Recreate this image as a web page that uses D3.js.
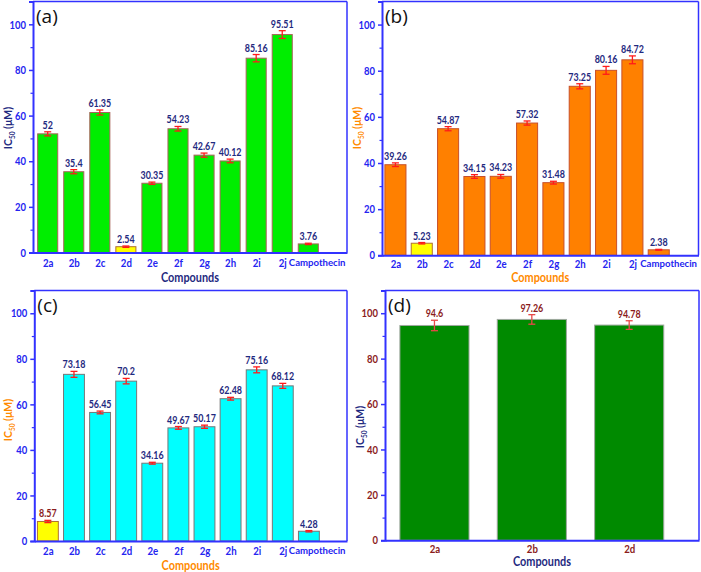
<!DOCTYPE html>
<html><head><meta charset="utf-8">
<script src="https://cdn.jsdelivr.net/npm/d3@7"></script>
<style>body{margin:0;background:#fff}svg{display:block}</style>
</head><body>
<svg id="chart" width="701" height="572"></svg>
<script>
// ---- data ----
const compounds = ["2a","2b","2c","2d","2e","2f","2g","2h","2i","2j","Campothecin"];
const valuesA = [52, 35.4, 61.35, 2.54, 30.35, 54.23, 42.67, 40.12, 85.16, 95.51, 3.76];
const errorsA = [0.9, 0.9, 1.1, 0.3, 0.5, 1.0, 0.9, 0.8, 1.6, 1.7, 0.3];
const valuesB = [39.26, 5.23, 54.87, 34.15, 34.23, 57.32, 31.48, 73.25, 80.16, 84.72, 2.38];
const errorsB = [0.8, 0.3, 0.9, 0.8, 0.8, 0.9, 0.6, 1.1, 1.7, 1.7, 0.2];
const valuesC = [8.57, 73.18, 56.45, 70.2, 34.16, 49.67, 50.17, 62.48, 75.16, 68.12, 4.28];
const errorsC = [0.5, 1.3, 0.6, 1.2, 0.4, 0.6, 0.7, 0.6, 1.3, 1.1, 0.3];
const compoundsD = ["2a","2b","2d"];
const valuesD = [94.6, 97.26, 94.78];
const errorsD = [2.3, 2.1, 1.9];
const yTicks = [0, 20, 40, 60, 80, 100];
const yMinorTicks = [10, 30, 50, 70, 90];
const panelLabels = ["(a)", "(b)", "(c)", "(d)"];

const svg = d3.select("#chart");
const FONT = "Lato, 'Open Sans', sans-serif";
const BLUE = "#3232ff", TICKBLUE = "#2424f0", NAVY = "#1f2a80", ORANGE = "#ff8a00", DARKRED = "#8b1c1c";

// condense text horizontally (emulating a narrow bold face)
function narrow(sel, f) {
  sel.each(function () {
    const w = this.getComputedTextLength();
    d3.select(this).attr("textLength", w * f).attr("lengthAdjust", "spacingAndGlyphs");
  });
}

function panel(o) {
  const g = svg.append("g");
  const x = d3.scaleLinear().domain(o.xDom).range([o.left, o.right]);
  const y = d3.scaleLinear().domain([0, 110]).range([o.bottom, o.top]);
  const step = x(1) - x(0);
  const bw = step * o.barFrac;

  g.selectAll("rect.bar").data(o.values).join("rect")
    .attr("x", (d, i) => x(i) - bw / 2)
    .attr("y", d => y(d))
    .attr("width", bw)
    .attr("height", d => y(0) - y(d))
    .attr("fill", (d, i) => i === o.highlight ? "#ffff00" : o.fill)
    .attr("stroke", (d, i) => i === o.highlight ? "#b07030" : o.stroke)
    .attr("stroke-width", 1);

  const cap = o.cap;
  o.values.forEach((v, i) => {
    const e = o.errors[i], cx = x(i);
    const eg = g.append("g").attr("stroke", o.errColor).attr("stroke-width", 1.3);
    eg.append("line").attr("x1", cx).attr("x2", cx).attr("y1", y(v - e)).attr("y2", y(v + e));
    eg.append("line").attr("x1", cx - cap).attr("x2", cx + cap).attr("y1", y(v - e)).attr("y2", y(v - e));
    eg.append("line").attr("x1", cx - cap).attr("x2", cx + cap).attr("y1", y(v + e)).attr("y2", y(v + e));
  });

  const vals = g.selectAll("text.val").data(o.values).join("text")
    .attr("x", (d, i) => x(i))
    .attr("y", (d, i) => y(d + o.errors[i]) - 3)
    .attr("text-anchor", "middle")
    .attr("font-family", FONT).attr("font-weight", "bold")
    .attr("font-size", o.valSize)
    .attr("fill", (d, i) => i === o.highlight && o.hlValColor ? o.hlValColor : o.valColor)
    .text(d => String(d));
  narrow(vals, 0.85);

  g.append("line").attr("x1", o.left).attr("x2", o.right).attr("y1", o.top).attr("y2", o.top)
    .attr("stroke", BLUE).attr("stroke-width", 1.5);
  g.append("line").attr("x1", o.right).attr("x2", o.right).attr("y1", o.top).attr("y2", o.bottom)
    .attr("stroke", BLUE).attr("stroke-width", 1.5);

  const ya = g.append("g").attr("transform", `translate(${o.left},0)`)
    .call(d3.axisLeft(y).tickValues(yTicks).tickSize(4).tickPadding(3));
  ya.select(".domain").attr("stroke", BLUE).attr("stroke-width", 2);
  ya.selectAll(".tick line").attr("stroke", BLUE).attr("stroke-width", 1.5);
  ya.selectAll(".tick text").attr("font-family", FONT).attr("font-weight", "bold")
    .attr("font-size", 11.5).attr("fill", o.tickColor);
  narrow(ya.selectAll(".tick text"), 0.82);
  const ym = g.append("g").attr("transform", `translate(${o.left},0)`)
    .call(d3.axisLeft(y).tickValues(yMinorTicks).tickSize(2.5).tickFormat(""));
  ym.select(".domain").remove();
  ym.selectAll(".tick line").attr("stroke", BLUE).attr("stroke-width", 1.2);

  const xa = g.append("g").attr("transform", `translate(0,${o.bottom})`)
    .call(d3.axisBottom(x).tickValues(d3.range(o.cats.length)).tickSize(0).tickPadding(o.xPad)
      .tickFormat(i => o.cats[i]));
  xa.select(".domain").attr("stroke", BLUE).attr("stroke-width", 2);
  const xLabels = xa.selectAll(".tick text").attr("font-family", FONT).attr("font-weight", "bold")
    .attr("font-size", 11.5).attr("fill", o.tickColor);
  const longLab = xLabels.filter(i => o.cats[i] === "Campothecin");
  longLab.attr("font-size", 10)
    .attr("text-anchor", "end")
    .attr("x", o.right - x(o.cats.length - 1) - 2);
  narrow(xLabels.filter(i => o.cats[i] !== "Campothecin"), 0.84);
  narrow(longLab, 0.96);

  const xt = g.append("text").attr("x", (o.left + o.right) / 2).attr("y", o.xTitleY)
    .attr("text-anchor", "middle").attr("font-family", FONT).attr("font-weight", "bold")
    .attr("font-size", 12.5).attr("fill", o.xTitleColor).text("Compounds");
  narrow(xt, 0.87);
  const yt = g.append("text")
    .attr("transform", `translate(${o.yTitleX},${o.yTitleY}) rotate(-90) scale(0.88,1)`)
    .attr("text-anchor", "middle").attr("font-family", FONT).attr("font-weight", "bold")
    .attr("font-size", 12).attr("fill", o.yTitleColor);
  yt.append("tspan").text("IC");
  yt.append("tspan").attr("font-size", 7.5).attr("dy", 3).text("50");
  yt.append("tspan").attr("dy", -3).text(" (μM)");

  g.append("text").attr("x", o.left + 3).attr("y", o.top + 21)
    .attr("font-family", "'Open Sans', sans-serif").attr("font-size", 19).attr("fill", "#111")
    .text(o.label);
}

panel({ values: valuesA, errors: errorsA, cats: compounds, highlight: 3,
  left: 33, right: 347, top: 1.5, bottom: 252.5, xDom: [-0.564, 11.485], barFrac: 0.77,
  fill: "#00ee00", stroke: "#a8645a", errColor: "#ff1a1a", cap: 3.5, xPad: 6,
  valColor: NAVY, valSize: 10.5, tickColor: TICKBLUE, xTitleColor: NAVY, yTitleColor: NAVY,
  xTitleY: 281.5, yTitleX: 11.5, yTitleY: 128, label: panelLabels[0] });

panel({ values: valuesB, errors: errorsB, cats: compounds, highlight: 1,
  left: 382, right: 698.5, top: 1.5, bottom: 255.3, xDom: [-0.51, 11.51], barFrac: 0.8,
  fill: "#ff8000", stroke: "#c8502a", errColor: "#ff1a1a", cap: 3.5, xPad: 5,
  valColor: NAVY, valSize: 10.5, tickColor: TICKBLUE, xTitleColor: ORANGE, yTitleColor: ORANGE,
  xTitleY: 281.5, yTitleX: 361, yTitleY: 128, label: panelLabels[1] });

panel({ values: valuesC, errors: errorsC, cats: compounds, highlight: 0, hlValColor: DARKRED,
  left: 34.3, right: 347, top: 290.5, bottom: 541, xDom: [-0.52, 11.46], barFrac: 0.8,
  fill: "#00ffff", stroke: "#777777", errColor: "#ff1a1a", cap: 3.5, xPad: 5.5,
  valColor: NAVY, valSize: 10.5, tickColor: TICKBLUE, xTitleColor: ORANGE, yTitleColor: ORANGE,
  xTitleY: 570, yTitleX: 11.5, yTitleY: 420, label: panelLabels[2] });

panel({ values: valuesD, errors: errorsD, cats: compoundsD, highlight: -1,
  left: 385, right: 699, top: 290.5, bottom: 540.3, xDom: [-0.508, 2.717], barFrac: 0.71,
  fill: "#008a00", stroke: "#a0a8a0", errColor: "#e84848", cap: 3.5, xPad: 4.5,
  valColor: DARKRED, valSize: 10.5, tickColor: DARKRED, xTitleColor: NAVY, yTitleColor: NAVY,
  xTitleY: 566, yTitleX: 364, yTitleY: 427, label: panelLabels[3] });
</script>
</body></html>
